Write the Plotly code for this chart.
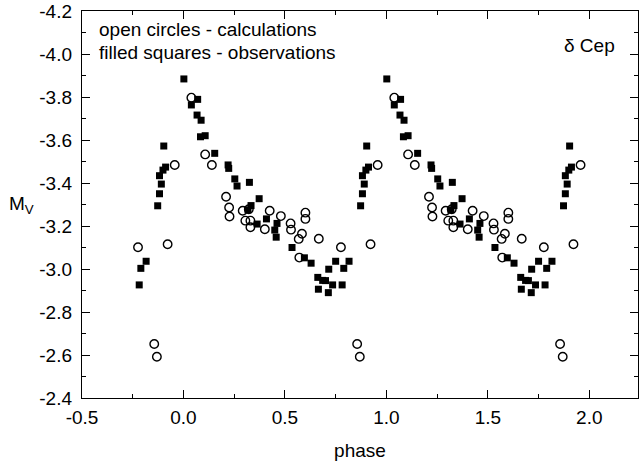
import plotly.graph_objects as go

# ---- data (one pulsation cycle, phase in [0,1)) ----
# filled squares - observations
obs_phase = [0.002, 0.039, 0.070, 0.067, 0.087, 0.084, 0.107, 0.154, 0.220, 0.223,
             0.253, 0.264, 0.325, 0.373, 0.333, 0.318, 0.409, 0.363, 0.461, 0.450,
             0.457, 0.535, 0.596, 0.629, 0.662, 0.686, 0.700, 0.716, 0.714, 0.665,
             0.735, 0.750, 0.782, 0.790, 0.816, 0.873, 0.882, 0.891, 0.882, 0.899,
             0.912, 0.903]
obs_mv = [-3.884, -3.763, -3.789, -3.716, -3.692, -3.615, -3.620, -3.538, -3.484, -3.468,
          -3.419, -3.386, -3.403, -3.327, -3.295, -3.275, -3.233, -3.209, -3.212, -3.181,
          -3.148, -3.100, -3.052, -3.027, -2.961, -2.947, -2.946, -2.999, -2.890, -2.906,
          -2.926, -3.036, -2.926, -3.003, -3.036, -3.294, -3.350, -3.395, -3.434, -3.460,
          -3.474, -3.572]

# open circles - calculations
calc_phase = [0.039, 0.107, 0.140, 0.210, 0.225, 0.227, 0.292, 0.305, 0.322, 0.330,
              0.330, 0.401, 0.425, 0.480, 0.528, 0.530, 0.568, 0.584, 0.601, 0.601,
              0.571, 0.667, 0.776, 0.856, 0.869, 0.922, 0.957]
calc_mv = [-3.797, -3.533, -3.484, -3.336, -3.286, -3.244, -3.271, -3.225, -3.278, -3.225,
           -3.194, -3.185, -3.271, -3.246, -3.212, -3.183, -3.140, -3.164, -3.262, -3.233,
           -3.053, -3.141, -3.101, -2.651, -2.592, -3.115, -3.484]

# phase window shown (data repeated over cycles as in the original figure)
PHASE_SHOWN = (-0.235, 1.965)
CYCLES = (-1, 0, 1)

x_ticks = [-0.5, 0.0, 0.5, 1.0, 1.5, 2.0]
y_ticks = [-4.2, -4.0, -3.8, -3.6, -3.4, -3.2, -3.0, -2.8, -2.6, -2.4]


def unfold(ph, mv):
    xs, ys = [], []
    for k in CYCLES:
        for p, m in zip(ph, mv):
            q = p + k
            if PHASE_SHOWN[0] <= q <= PHASE_SHOWN[1]:
                xs.append(q)
                ys.append(m)
    return xs, ys


ox, oy = unfold(obs_phase, obs_mv)
cx, cy = unfold(calc_phase, calc_mv)

FONT = "Liberation Sans, Arial, Helvetica, sans-serif"

fig = go.Figure()
fig.add_trace(go.Scatter(
    x=ox, y=oy, mode="markers", name="observations",
    marker=dict(symbol="square", size=7, color="black", line=dict(width=0)),
))
fig.add_trace(go.Scatter(
    x=cx, y=cy, mode="markers", name="calculations",
    marker=dict(symbol="circle-open", size=8.5, color="black", line=dict(width=1.4, color="black")),
))

axis_common = dict(
    showgrid=False, zeroline=False,
    showline=True, linecolor="black", linewidth=1.3, mirror="ticks",
    ticks="inside", ticklen=8, tickwidth=1.2, tickcolor="black",
    tickfont=dict(family=FONT, size=19, color="black"),
)

fig.update_xaxes(
    range=[-0.5, 2.24], tickvals=x_ticks, ticktext=[f"{v:.1f}" for v in x_ticks],
    minor=dict(ticks="inside", ticklen=4, dtick=0.25, tick0=0, tickcolor="black", tickwidth=1.1),
    title=dict(text="phase", font=dict(family=FONT, size=19, color="black"), standoff=16),
    ticklabelstandoff=2,
    **axis_common,
)
fig.update_yaxes(
    range=[-2.4, -4.2], tickvals=y_ticks, ticktext=[f"{v:.1f}" for v in y_ticks],
    minor=dict(ticks="inside", ticklen=4, dtick=0.1, tick0=0, tickcolor="black", tickwidth=1.1),
    ticklabelstandoff=5,
    **axis_common,
)

fig.add_annotation(
    text="M<sub>V</sub>", xref="paper", yref="paper", x=-0.108, y=0.5,
    xanchor="center", yanchor="middle", showarrow=False,
    font=dict(family=FONT, size=19, color="black"),
)
fig.add_annotation(
    text="open circles - calculations", xref="paper", yref="paper",
    x=0.027, y=0.953, xanchor="left", yanchor="middle", showarrow=False,
    font=dict(family=FONT, size=19, color="black"),
)
fig.add_annotation(
    text="filled squares - observations", xref="paper", yref="paper",
    x=0.027, y=0.893, xanchor="left", yanchor="middle", showarrow=False,
    font=dict(family=FONT, size=19, color="black"),
)
fig.add_annotation(
    text="δ Cep", xref="paper", yref="paper",
    x=0.912, y=0.912, xanchor="center", yanchor="middle", showarrow=False,
    font=dict(family=FONT, size=19, color="black"),
)

fig.update_layout(
    width=639, height=465,
    margin=dict(l=82, r=1, t=11, b=67),
    paper_bgcolor="white", plot_bgcolor="white",
    showlegend=False,
)

fig.write_html(
    "out.html",
    config={"displayModeBar": False},
    post_script="document.body.style.margin='0px';document.body.style.overflow='hidden';",
)
